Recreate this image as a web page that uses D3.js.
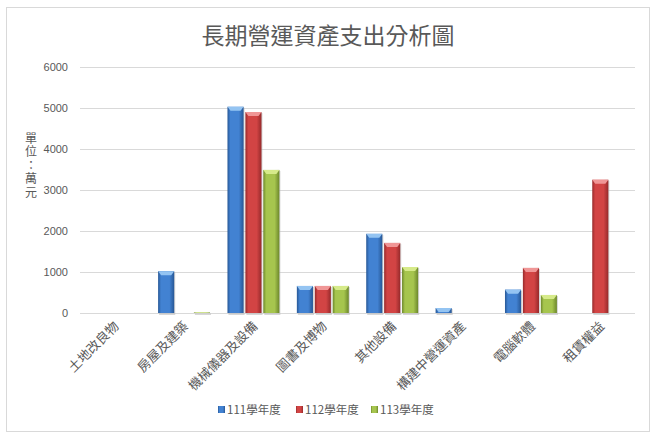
<!DOCTYPE html>
<html>
<head>
<meta charset="utf-8">
<script src="https://cdn.jsdelivr.net/npm/d3@7"></script>
<style>
  body { margin: 0; background: #fff; }
  svg { font-family: "Noto Sans CJK TC", "Noto Sans", sans-serif; }
</style>
</head>
<body>
<svg id="chart" width="658" height="438"></svg>
<script>
// 類別與各學年度數值（單位：萬元）
var categories = ["土地改良物", "房屋及建築", "機械儀器及設備", "圖書及博物", "其他設備", "構建中營運資產", "電腦軟體", "租賃權益"];
var seriesNames = ["111學年度", "112學年度", "113學年度"];
var y111 = [0, 1020, 5030, 660, 1930, 120, 570, 0];
var y112 = [0, 0, 4900, 660, 1710, 0, 1100, 3250];
var y113 = [0, 15, 3490, 660, 1120, 0, 440, 0];
var yTicks = [0, 1000, 2000, 3000, 4000, 5000, 6000];

var colors = {
	"111學年度": { mid: "#4282d2", edge: "#275795", cap: "#94c4f2" },
	"112學年度": { mid: "#d24444", edge: "#962a2b", cap: "#f09696" },
	"113學年度": { mid: "#a6c54e", edge: "#6c872b", cap: "#d6ea8a" }
};

var svg = d3.select("#chart");
var values = [y111, y112, y113];

var rows = categories.map(function(c, i) {
	return { cat: c, vals: seriesNames.map(function(s, j) { return { s: s, v: values[j][i] }; }) };
});

// 外框
svg.append("rect")
	.attr("x", 6.5).attr("y", 7.5)
	.attr("width", 643).attr("height", 424)
	.attr("fill", "#fff").attr("stroke", "#d9d9d9");

// 漸層
var defs = svg.append("defs");
seriesNames.forEach(function(s, i) {
	var g = defs.append("linearGradient").attr("id", "grad" + i)
		.attr("x1", "0").attr("x2", "1").attr("y1", "0").attr("y2", "0");
	g.append("stop").attr("offset", "0%").attr("stop-color", colors[s].edge);
	g.append("stop").attr("offset", "18%").attr("stop-color", colors[s].mid);
	g.append("stop").attr("offset", "70%").attr("stop-color", colors[s].mid);
	g.append("stop").attr("offset", "100%").attr("stop-color", colors[s].edge);
});

var x0 = d3.scaleBand().domain(categories).range([80, 635]).paddingInner(0.2).paddingOuter(0.1);
var x1 = d3.scaleBand().domain(seriesNames).range([0, x0.bandwidth()]).padding(0.1);
var y = d3.scaleLinear().domain([0, 6000]).range([313, 67]);

// 格線
svg.append("g")
	.attr("transform", "translate(80,0)")
	.call(d3.axisLeft(y).tickValues(yTicks).tickSize(-555).tickFormat(""))
	.call(function(g) { g.select(".domain").remove(); })
	.selectAll("line").attr("stroke", "#d9d9d9");

// Y 軸刻度
svg.append("g")
	.attr("transform", "translate(71,0)")
	.call(d3.axisLeft(y).tickValues(yTicks).tickSize(0).tickFormat(d3.format("d")))
	.call(function(g) { g.select(".domain").remove(); })
	.selectAll("text")
	.attr("fill", "#595959")
	.style("font-size", "11px")
	.style("font-family", "Liberation Sans, Arial, sans-serif");

// 長條
var groups = svg.append("g").selectAll("g")
	.data(rows).enter().append("g")
	.attr("transform", function(d) { return "translate(" + x0(d.cat) + ",0)"; });

var bars = groups.selectAll("g.bar")
	.data(function(d) { return d.vals.filter(function(e) { return e.v > 0; }); })
	.enter().append("g").attr("class", "bar");

bars.append("rect")
	.attr("x", function(d) { return x1(d.s) + 1; })
	.attr("y", function(d) { return y(d.v) + 1; })
	.attr("width", x1.bandwidth())
	.attr("height", function(d) { return y(0) - y(d.v) + 1; })
	.attr("fill", "#bdbdbd").attr("opacity", 0.6);

bars.append("rect")
	.attr("x", function(d) { return x1(d.s); })
	.attr("y", function(d) { return y(d.v); })
	.attr("width", x1.bandwidth())
	.attr("height", function(d) { return y(0) - y(d.v); })
	.attr("fill", function(d) { return "url(#grad" + seriesNames.indexOf(d.s) + ")"; });

bars.append("path")
	.attr("d", function(d) {
		var xl = x1(d.s), w = x1.bandwidth(), t = y(d.v);
		var h = Math.min(4, y(0) - t);
		return "M" + xl + "," + t + "L" + (xl + w) + "," + t +
			"L" + (xl + w - 3) + "," + (t + h) + "L" + (xl + 3) + "," + (t + h) + "Z";
	})
	.attr("fill", function(d) { return colors[d.s].cap; });

// X 軸標籤
svg.append("g").selectAll("text")
	.data(categories).enter().append("text")
	.attr("transform", function(d) {
		return "translate(" + (x0(d) + x0.bandwidth() / 2 + 5) + ",327) rotate(-45)";
	})
	.attr("text-anchor", "end")
	.attr("fill", "#595959")
	.style("font-size", "13px")
	.text(function(d) { return d; });

// 標題
svg.append("text")
	.attr("x", 328).attr("y", 44)
	.attr("text-anchor", "middle")
	.attr("fill", "#595959")
	.style("font-size", "23px")
	.text("長期營運資產支出分析圖");

// Y 軸單位（直書）
svg.append("text")
	.attr("x", 31).attr("y", 132)
	.attr("fill", "#595959")
	.style("writing-mode", "vertical-rl")
	.style("font-size", "12px")
	.style("letter-spacing", "1.5px")
	.text("單位：萬元");

// 圖例
var legendX = [218, 296, 371];
var legend = svg.append("g").selectAll("g")
	.data(seriesNames).enter().append("g")
	.attr("transform", function(d, i) { return "translate(" + legendX[i] + ",406)"; });
legend.append("rect")
	.attr("width", 7).attr("height", 7)
	.attr("fill", function(d, i) { return "url(#grad" + i + ")"; });
legend.append("text")
	.attr("x", 9).attr("y", 8)
	.attr("fill", "#595959")
	.style("font-size", "11.5px")
	.text(function(d) { return d; });
</script>
</body>
</html>
